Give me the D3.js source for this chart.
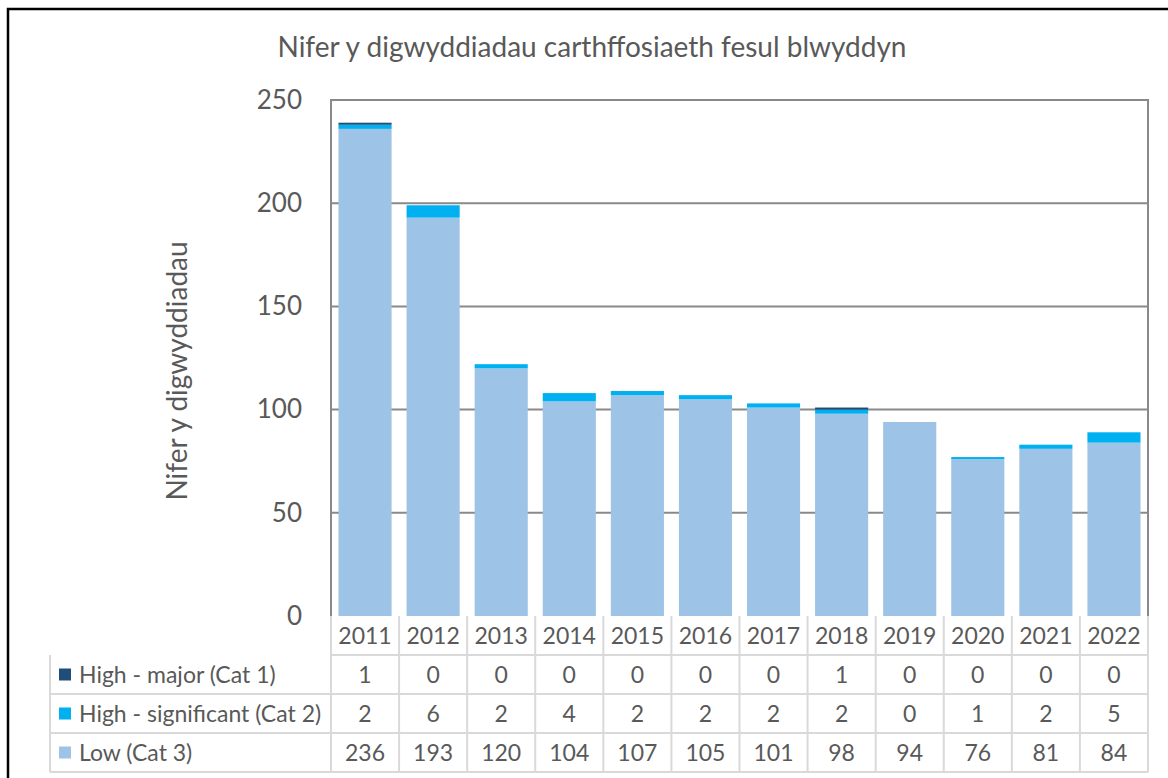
<!DOCTYPE html>
<html>
<head>
<meta charset="utf-8">
<script src="https://cdn.jsdelivr.net/npm/d3@7"></script>
<style>
  body { margin: 0; background: #fff; }
  svg text { font-family: Lato, "Open Sans", sans-serif; fill: #595959; }
</style>
</head>
<body>
<div id="container"></div>
<script>
// data
var years = ["2011","2012","2013","2014","2015","2016","2017","2018","2019","2020","2021","2022"];
var cat1 = [1,0,0,0,0,0,0,1,0,0,0,0];
var cat2 = [2,6,2,4,2,2,2,2,0,1,2,5];
var cat3 = [236,193,120,104,107,105,101,98,94,76,81,84];
var yTicks = [0,50,100,150,200,250];

var seriesNames = ["High - major (Cat 1)", "High - significant (Cat 2)", "Low (Cat 3)"];
var seriesColors = ["#1f4e79", "#00b0f0", "#9dc3e6"];

var W = 1168, H = 778;
var plotLeft = 331, plotRight = 1148, plotTop = 100, plotBottom = 616;
var rowH = 39;

var svg = d3.select('#container')
  .append('svg')
  .attr('width', W)
  .attr('height', H);

// outer frame (cut off on right/bottom like the screenshot)
svg.append('path')
  .attr('d', 'M8,' + H + ' V9 H' + W)
  .attr('fill', 'none')
  .attr('stroke', '#000')
  .attr('stroke-width', 2.5);

var x = d3.scaleBand().domain(years).range([plotLeft, plotRight]).paddingInner(0.22).paddingOuter(0.11);
var y = d3.scaleLinear().domain([0, 250]).range([plotBottom, plotTop]);

// rows for stacking: bottom to top
var rows = years.map(function(yr, i) {
  return { year: yr, low: cat3[i], sig: cat2[i], major: cat1[i] };
});
var stack = d3.stack().keys(["low", "sig", "major"]);
var layers = stack(rows);
var keyColor = { low: seriesColors[2], sig: seriesColors[1], major: seriesColors[0] };

// gridlines
svg.append('g').selectAll('line')
  .data(yTicks.filter(function(d){ return d > 0; }))
  .enter().append('line')
  .attr('x1', plotLeft).attr('x2', plotRight)
  .attr('y1', function(d){ return y(d); })
  .attr('y2', function(d){ return y(d); })
  .attr('stroke', '#898989')
  .attr('stroke-width', 2);

// bars
svg.append('g').selectAll('g')
  .data(layers)
  .enter().append('g')
  .attr('fill', function(d){ return keyColor[d.key]; })
  .selectAll('rect')
  .data(function(d){ return d; })
  .enter().append('rect')
  .attr('x', function(d){ return x(d.data.year); })
  .attr('width', x.bandwidth())
  .attr('y', function(d){ return y(d[1]); })
  .attr('height', function(d){ return y(d[0]) - y(d[1]); });

// plot frame
svg.append('path')
  .attr('d', 'M' + plotLeft + ',' + plotBottom + ' V' + plotTop + ' H' + plotRight + ' V' + plotBottom)
  .attr('fill', 'none')
  .attr('stroke', '#898989')
  .attr('stroke-width', 2);

// y axis labels
var yAxis = d3.axisLeft(y).tickValues(yTicks).tickSize(0).tickPadding(29);
var ya = svg.append('g').attr('transform', 'translate(' + plotLeft + ',0)').call(yAxis);
ya.select('.domain').remove();
ya.selectAll('text')
  .style('font-size', '26px')
  .style('font-family', 'Lato, sans-serif')
  .attr('fill', '#595959');

// title
svg.append('text')
  .attr('x', 592).attr('y', 57)
  .attr('text-anchor', 'middle')
  .style('font-size', '28px')
  .text('Nifer y digwyddiadau carthffosiaeth fesul blwyddyn');

// y title
svg.append('text')
  .attr('transform', 'translate(187,371) rotate(-90)')
  .attr('text-anchor', 'middle')
  .style('font-size', '28px')
  .text('Nifer y digwyddiadau');

// data table
var table = svg.append('g');
var colStep = (plotRight - plotLeft) / years.length;
var legLeft = 50;
var gridColor = '#d9d9d9';

[0,1,2,3].forEach(function(r){
  table.append('line')
    .attr('x1', r === 0 ? plotLeft : legLeft).attr('x2', plotRight)
    .attr('y1', plotBottom + rowH * (r + 1)).attr('y2', plotBottom + rowH * (r + 1))
    .attr('stroke', gridColor).attr('stroke-width', 2);
});
table.append('line')
  .attr('x1', legLeft).attr('x2', legLeft)
  .attr('y1', plotBottom + rowH).attr('y2', plotBottom + rowH * 4)
  .attr('stroke', gridColor).attr('stroke-width', 2);
d3.range(years.length + 1).forEach(function(c){
  table.append('line')
    .attr('x1', plotLeft + c * colStep).attr('x2', plotLeft + c * colStep)
    .attr('y1', plotBottom).attr('y2', plotBottom + rowH * 4)
    .attr('stroke', gridColor).attr('stroke-width', 2);
});

// year header
table.selectAll('text.year')
  .data(years)
  .enter().append('text')
  .attr('class', 'year')
  .attr('x', function(d, i){ return plotLeft + colStep * (i + 0.5); })
  .attr('y', plotBottom + rowH / 2 + 8)
  .attr('text-anchor', 'middle')
  .style('font-size', '23px')
  .text(function(d){ return d; });

// value rows
var tableVals = [cat1, cat2, cat3];
tableVals.forEach(function(vals, r){
  var cy = plotBottom + rowH * (r + 1) + rowH / 2;
  table.append('rect')
    .attr('x', 59).attr('y', cy - 6)
    .attr('width', 12).attr('height', 12)
    .attr('fill', seriesColors[r]);
  table.append('text')
    .attr('x', 79).attr('y', cy + 8)
    .style('font-size', '23px')
    .text(seriesNames[r]);
  table.selectAll('text.v' + r)
    .data(vals)
    .enter().append('text')
    .attr('class', 'v' + r)
    .attr('x', function(d, i){ return plotLeft + colStep * (i + 0.5); })
    .attr('y', cy + 8)
    .attr('text-anchor', 'middle')
    .style('font-size', '23px')
    .text(function(d){ return d; });
});
</script>
</body>
</html>
